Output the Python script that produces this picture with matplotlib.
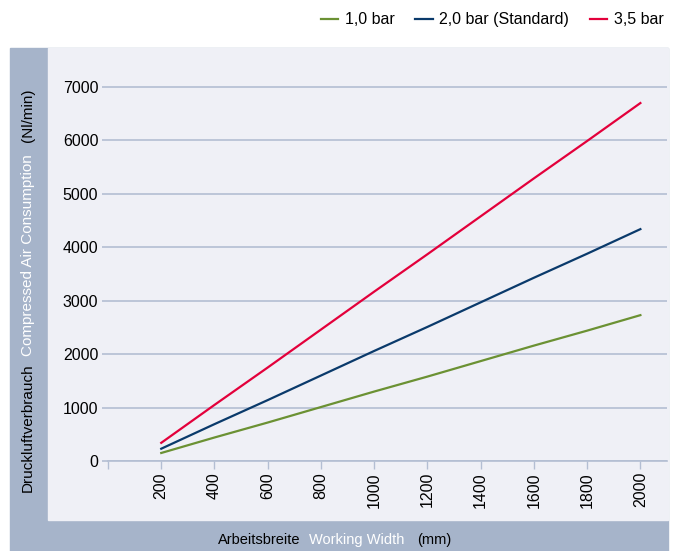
import matplotlib.pyplot as plt
from matplotlib.patches import Rectangle
from matplotlib.lines import Line2D

plt.rcParams['font.family'] = ['Liberation Sans', 'DejaVu Sans']

# working width (mm) and air consumption (Nl/min)
widths = [200, 400, 600, 800, 1000, 1200, 1400, 1600, 1800, 2000]
bar_1_0 = [150, 440, 720, 1010, 1300, 1580, 1870, 2160, 2440, 2730]
bar_2_0 = [230, 690, 1140, 1600, 2060, 2510, 2970, 3430, 3880, 4340]
bar_3_5 = [340, 1050, 1750, 2460, 3170, 3870, 4580, 5290, 5990, 6700]

series_labels = ["1,0 bar", "2,0 bar (Standard)", "3,5 bar"]
series_colors = ["#6b9133", "#0a3a6b", "#e3003b"]

y_ticks = [0, 1000, 2000, 3000, 4000, 5000, 6000, 7000]
x_ticks = [0, 200, 400, 600, 800, 1000, 1200, 1400, 1600, 1800, 2000]

W, H = 684, 551
band_col = "#a6b4ca"
panel_col = "#eff0f6"
grid_col = "#b3bed3"


def fx(px):
    return px / W


def fy(py):
    return 1 - py / H


fig = plt.figure(figsize=(W / 100, H / 100), dpi=100)
fig.patch.set_facecolor("white")

# blue-grey frame and light panel
fig.patches.append(Rectangle((fx(10), 0), fx(668) - fx(10), fy(48),
                             transform=fig.transFigure, color=band_col, zorder=-2))
fig.patches.append(Rectangle((fx(48), fy(520)), fx(668) - fx(48), fy(48) - fy(520),
                             transform=fig.transFigure, color=panel_col, zorder=-1))

ax = fig.add_axes([fx(108), fy(461), fx(667) - fx(108), fy(71) - fy(461)])
ax.set_facecolor("none")

for vals, lab, col in zip([bar_1_0, bar_2_0, bar_3_5], series_labels, series_colors):
    ax.plot(widths, vals, color=col, lw=1.6, label=lab, zorder=3)

ax.set_xlim(0, 2100)
ax.set_ylim(0, 7300)
ax.set_yticks(y_ticks)
ax.set_yticklabels([str(v) for v in y_ticks], fontsize=11.5)
ax.set_xticks(x_ticks)
ax.set_xticklabels([""] + [str(v) for v in x_ticks[1:]], rotation=90, fontsize=11.5)

ax.yaxis.grid(True, color=grid_col, lw=1.2)
ax.set_axisbelow(True)
for s in ["top", "right", "left"]:
    ax.spines[s].set_visible(False)
ax.spines["bottom"].set_color(grid_col)
ax.spines["bottom"].set_linewidth(1.2)
ax.tick_params(axis="y", length=4, width=1.2, color=grid_col, pad=3)
ax.tick_params(axis="x", length=6, width=1.0, color=grid_col, pad=2)

# axis titles in two languages
fig.text(fx(28), fy(492), "Druckluftverbrauch", rotation=90, ha="center", va="bottom",
         fontsize=11, color="black")
fig.text(fx(28), fy(356), "Compressed Air Consumption", rotation=90, ha="center", va="bottom",
         fontsize=11, color="white")
fig.text(fx(28), fy(142), "(Nl/min)", rotation=90, ha="center", va="bottom",
         fontsize=11, color="black")

fig.text(fx(218), fy(540), "Arbeitsbreite", ha="left", va="center", fontsize=10.5, color="black")
fig.text(fx(309), fy(540), "Working Width", ha="left", va="center", fontsize=10.5, color="white")
fig.text(fx(417), fy(540), "(mm)", ha="left", va="center", fontsize=10.5, color="black")

handles = [Line2D([], [], color=c, lw=1.6) for c in series_colors]
fig.legend(handles, series_labels, loc="upper right", bbox_to_anchor=(fx(670), fy(6)),
           ncol=3, frameon=False, fontsize=11.5, handlelength=1.1, handletextpad=0.4,
           columnspacing=1.3, borderaxespad=0)

fig.savefig("out.png", dpi=100)
